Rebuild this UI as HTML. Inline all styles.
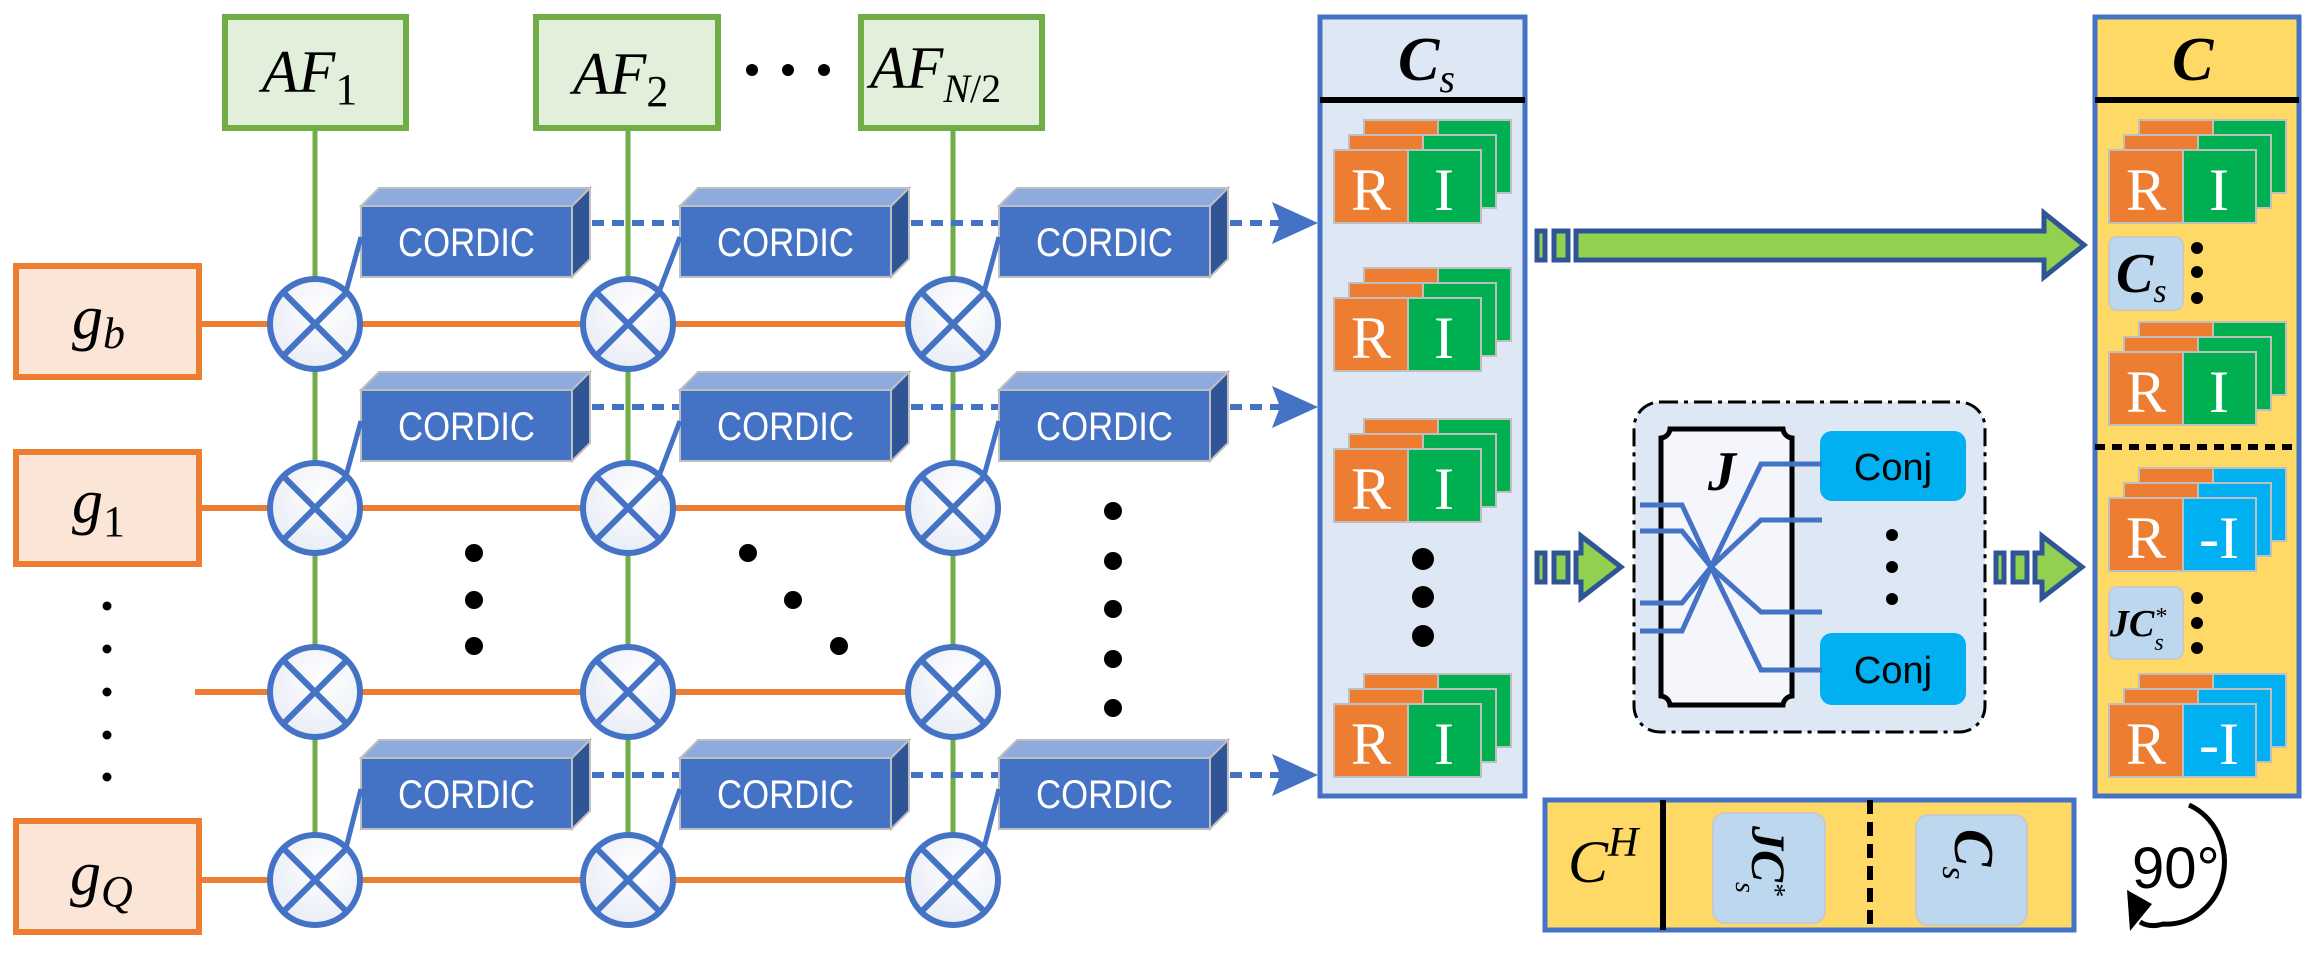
<!DOCTYPE html>
<html><head><meta charset="utf-8"><style>html,body{margin:0;padding:0;background:#fff}svg{display:block}</style></head>
<body>
<svg width="2304" height="968" viewBox="0 0 2304 968" xmlns="http://www.w3.org/2000/svg" xmlns:xlink="http://www.w3.org/1999/xlink">
<defs>
<radialGradient id="cg" cx="0.6" cy="0.35" r="0.8"><stop offset="0" stop-color="#ffffff"/><stop offset="1" stop-color="#e4e9f4"/></radialGradient>
<g id="cord">
<polygon points="0,0 18,-18 229,-18 211,0" fill="#8faadc" stroke="#bfbfbf" stroke-width="2"/>
<polygon points="211,0 229,-18 229,53 211,71" fill="#2f5597" stroke="#bfbfbf" stroke-width="2"/>
<rect x="0" y="0" width="211" height="71" fill="#4472c4" stroke="#bfbfbf" stroke-width="2"/>
<text x="37" y="50" font-family="Liberation Sans, sans-serif" font-size="40" fill="#fff" textLength="137" lengthAdjust="spacingAndGlyphs">CORDIC</text>
</g>
<g id="mul">
<ellipse cx="0" cy="0" rx="45" ry="45" fill="url(#cg)" stroke="#4472c4" stroke-width="6"/>
<line x1="-32" y1="-32" x2="32" y2="32" stroke="#4472c4" stroke-width="6"/>
<line x1="32" y1="-32" x2="-32" y2="32" stroke="#4472c4" stroke-width="6"/>
</g>
<g id="lay"><rect x="0" y="0" width="74" height="73" fill="#ed7d31" stroke="#bfbfbf" stroke-width="2"/><rect x="74" y="0" width="73" height="73" fill="#00b050" stroke="#bfbfbf" stroke-width="2"/></g>
<g id="ri">
<use xlink:href="#lay" x="30" y="-30"/><use xlink:href="#lay" x="15" y="-15"/><use xlink:href="#lay" x="0" y="0"/>
<text x="37" y="60" font-family="Liberation Serif, serif" font-size="60" fill="#fff" text-anchor="middle">R</text>
<text x="110" y="60" font-family="Liberation Serif, serif" font-size="60" fill="#fff" text-anchor="middle">I</text>
</g>
<g id="layb"><rect x="0" y="0" width="74" height="73" fill="#ed7d31" stroke="#bfbfbf" stroke-width="2"/><rect x="74" y="0" width="73" height="73" fill="#00b0f0" stroke="#bfbfbf" stroke-width="2"/></g>
<g id="rib">
<use xlink:href="#layb" x="30" y="-30"/><use xlink:href="#layb" x="15" y="-15"/><use xlink:href="#layb" x="0" y="0"/>
<text x="37" y="60" font-family="Liberation Serif, serif" font-size="60" fill="#fff" text-anchor="middle">R</text>
<text x="110" y="60" font-family="Liberation Serif, serif" font-size="60" fill="#fff" text-anchor="middle">-I</text>
</g>
</defs>

<g stroke="#70ad47" stroke-width="5">
<line x1="315" y1="128" x2="315" y2="880"/><line x1="628" y1="128" x2="628" y2="880"/><line x1="953" y1="128" x2="953" y2="880"/>
</g>
<g fill="#e2efda" stroke="#70ad47" stroke-width="6">
<rect x="225" y="17" width="181" height="111"/><rect x="536" y="17" width="182" height="111"/><rect x="861" y="17" width="181" height="111"/>
</g>
<g font-family="Liberation Serif, serif" font-style="italic" font-size="60" fill="#000">
<text x="262" y="92">AF<tspan font-style="normal" font-size="44" dy="12">1</tspan></text>
<text x="573" y="94">AF<tspan font-style="normal" font-size="44" dy="12">2</tspan></text>
<text x="870" y="88">AF<tspan font-size="40" dy="14">N</tspan><tspan font-style="normal" font-size="40">/2</tspan></text>
</g>
<g fill="#000"><circle cx="752" cy="70" r="6"/><circle cx="788" cy="70" r="6"/><circle cx="824" cy="70" r="6"/></g>

<g stroke="#ed7d31" stroke-width="6">
<line x1="199" y1="324" x2="960" y2="324"/><line x1="199" y1="508" x2="960" y2="508"/><line x1="195" y1="692" x2="960" y2="692"/><line x1="199" y1="880" x2="960" y2="880"/>
</g>
<g fill="#fbe5d6" stroke="#ed7d31" stroke-width="6">
<rect x="16" y="266" width="183" height="111"/><rect x="16" y="452" width="183" height="112"/><rect x="16" y="821" width="183" height="111"/>
</g>
<g font-family="Liberation Serif, serif" font-style="italic" font-size="62" fill="#000">
<text x="72" y="338">g<tspan font-size="44" dy="10">b</tspan></text>
<text x="72" y="522">g<tspan font-style="normal" font-size="44" dy="14">1</tspan></text>
<text x="70" y="894">g<tspan font-size="44" dy="12">Q</tspan></text>
</g>
<g fill="#000"><circle cx="107" cy="606" r="4.5"/><circle cx="107" cy="649" r="4.5"/><circle cx="107" cy="692" r="4.5"/><circle cx="107" cy="735" r="4.5"/><circle cx="107" cy="777" r="4.5"/></g>

<g stroke="#4472c4" stroke-width="6" stroke-dasharray="12,8">
<line x1="592" y1="223" x2="680" y2="223"/><line x1="911" y1="223" x2="999" y2="223"/><line x1="1230" y1="223" x2="1282" y2="223"/>
<line x1="592" y1="407" x2="680" y2="407"/><line x1="911" y1="407" x2="999" y2="407"/><line x1="1230" y1="407" x2="1282" y2="407"/>
<line x1="592" y1="775" x2="680" y2="775"/><line x1="911" y1="775" x2="999" y2="775"/><line x1="1230" y1="775" x2="1282" y2="775"/>
</g>
<g fill="#4472c4">
<polygon points="1272,202 1318,223 1272,244 1280,223"/><polygon points="1272,386 1318,407 1272,428 1280,407"/><polygon points="1272,754 1318,775 1272,796 1280,775"/>
</g>

<use xlink:href="#cord" x="361" y="206"/><use xlink:href="#cord" x="680" y="206"/><use xlink:href="#cord" x="999" y="206"/>
<use xlink:href="#cord" x="361" y="390"/><use xlink:href="#cord" x="680" y="390"/><use xlink:href="#cord" x="999" y="390"/>
<use xlink:href="#cord" x="361" y="758"/><use xlink:href="#cord" x="680" y="758"/><use xlink:href="#cord" x="999" y="758"/>

<g stroke="#4472c4" stroke-width="5">
<line x1="346" y1="292" x2="361" y2="237"/><line x1="659" y1="292" x2="680" y2="237"/><line x1="984" y1="292" x2="999" y2="237"/>
<line x1="346" y1="476" x2="361" y2="421"/><line x1="659" y1="476" x2="680" y2="421"/><line x1="984" y1="476" x2="999" y2="421"/>
<line x1="346" y1="848" x2="361" y2="789"/><line x1="659" y1="848" x2="680" y2="789"/><line x1="984" y1="848" x2="999" y2="789"/>
</g>

<use xlink:href="#mul" x="315" y="324"/><use xlink:href="#mul" x="628" y="324"/><use xlink:href="#mul" x="953" y="324"/>
<use xlink:href="#mul" x="315" y="508"/><use xlink:href="#mul" x="628" y="508"/><use xlink:href="#mul" x="953" y="508"/>
<use xlink:href="#mul" x="315" y="692"/><use xlink:href="#mul" x="628" y="692"/><use xlink:href="#mul" x="953" y="692"/>
<use xlink:href="#mul" x="315" y="880"/><use xlink:href="#mul" x="628" y="880"/><use xlink:href="#mul" x="953" y="880"/>

<g fill="#000">
<circle cx="474" cy="553" r="9"/><circle cx="474" cy="600" r="9"/><circle cx="474" cy="646" r="9"/>
<circle cx="748" cy="553" r="9"/><circle cx="793" cy="600" r="9"/><circle cx="839" cy="646" r="9"/>
<circle cx="1113" cy="511" r="9"/><circle cx="1113" cy="561" r="9"/><circle cx="1113" cy="609" r="9"/><circle cx="1113" cy="659" r="9"/><circle cx="1113" cy="708" r="9"/>
</g>

<rect x="1320" y="17" width="205" height="779" fill="#dee8f5" stroke="#4472c4" stroke-width="5"/>
<line x1="1320" y1="100" x2="1525" y2="100" stroke="#000" stroke-width="6"/>
<text x="1398" y="80" font-family="Liberation Serif, serif" font-style="italic" font-weight="bold" font-size="62">C<tspan font-weight="normal" font-size="40" dy="12">s</tspan></text>
<use xlink:href="#ri" x="1334" y="150"/><use xlink:href="#ri" x="1334" y="298"/><use xlink:href="#ri" x="1334" y="449"/><use xlink:href="#ri" x="1334" y="704"/>
<g fill="#000"><circle cx="1423" cy="559" r="11"/><circle cx="1423" cy="597" r="11"/><circle cx="1423" cy="636" r="11"/></g>

<g stroke="#2f5597" stroke-width="5" fill="#92d050">
<rect x="1537" y="231" width="8" height="29"/><rect x="1554" y="231" width="14" height="29"/>
<polygon points="1576,231 2044,231 2044,213 2084,245 2044,277 2044,260 1576,260"/>
</g>
<g stroke="#2f5597" stroke-width="5" fill="#92d050">
<rect x="1537" y="553" width="8" height="29"/><rect x="1554" y="553" width="14" height="29"/>
<polygon points="1576,553 1581,553 1581,536 1621,567 1581,598 1581,582 1576,582"/>
<rect x="1996" y="553" width="8" height="29"/><rect x="2013" y="553" width="14" height="29"/>
<polygon points="2035,553 2042,553 2042,536 2082,567 2042,598 2042,582 2035,582"/>
</g>

<rect x="1634" y="402" width="351" height="330" rx="26" fill="#dee8f5" stroke="#000" stroke-width="3" stroke-dasharray="18,6,4,6"/>
<path d="M1670,429 L1783,429 A10,10 0 0 0 1792,438 L1792,696 A10,10 0 0 0 1783,705 L1670,705 A10,10 0 0 0 1661,696 L1661,438 A10,10 0 0 0 1670,429 Z" fill="#f4f6fb" stroke="#000" stroke-width="5"/>
<text x="1708" y="490" font-family="Liberation Serif, serif" font-style="italic" font-weight="bold" font-size="56">J</text>
<rect x="1820" y="431" width="146" height="70" rx="12" fill="#00b0f0"/>
<rect x="1820" y="633" width="146" height="72" rx="12" fill="#00b0f0"/>
<text x="1893" y="480" font-family="Liberation Sans, sans-serif" font-size="38" text-anchor="middle">Conj</text>
<text x="1893" y="683" font-family="Liberation Sans, sans-serif" font-size="38" text-anchor="middle">Conj</text>
<g stroke="#4472c4" stroke-width="5" fill="none">
<polyline points="1640,505 1682,505 1711,567 1761,464 1822,464"/>
<polyline points="1640,531 1682,531 1711,567 1761,520 1822,520"/>
<polyline points="1640,603 1682,603 1711,567 1761,612 1822,612"/>
<polyline points="1640,631 1682,631 1711,567 1761,670 1822,670"/>
</g>
<g fill="#000"><circle cx="1892" cy="535" r="6"/><circle cx="1892" cy="567" r="6"/><circle cx="1892" cy="599" r="6"/></g>

<rect x="2095" y="17" width="204" height="779" fill="#ffd966" stroke="#4472c4" stroke-width="5"/>
<line x1="2095" y1="100" x2="2299" y2="100" stroke="#000" stroke-width="6"/>
<line x1="2095" y1="447" x2="2299" y2="447" stroke="#000" stroke-width="6" stroke-dasharray="10,7"/>
<text x="2172" y="80" font-family="Liberation Serif, serif" font-style="italic" font-weight="bold" font-size="62">C</text>
<use xlink:href="#ri" x="2109" y="150"/><use xlink:href="#ri" x="2109" y="352"/>
<use xlink:href="#rib" x="2109" y="498"/><use xlink:href="#rib" x="2109" y="704"/>
<rect x="2109" y="237" width="74" height="73" rx="8" fill="#bdd7ee" stroke="#c9c9c9" stroke-width="2"/>
<text x="2116" y="292" font-family="Liberation Serif, serif" font-style="italic" font-weight="bold" font-size="56">C<tspan font-weight="normal" font-size="34" dy="10">s</tspan></text>
<rect x="2109" y="587" width="74" height="72" rx="8" fill="#bdd7ee" stroke="#c9c9c9" stroke-width="2"/>
<text x="2110" y="636" font-family="Liberation Serif, serif" font-style="italic" font-weight="bold" font-size="38">JC<tspan font-weight="normal" font-size="24" dy="-12">*</tspan><tspan font-weight="normal" font-size="24" dx="-12" dy="26">s</tspan></text>
<g fill="#000"><circle cx="2197" cy="248" r="6"/><circle cx="2197" cy="272" r="6"/><circle cx="2197" cy="298" r="6"/>
<circle cx="2197" cy="598" r="6"/><circle cx="2197" cy="623" r="6"/><circle cx="2197" cy="648" r="6"/></g>

<rect x="1545" y="800" width="529" height="130" fill="#ffd966" stroke="#4472c4" stroke-width="5"/>
<line x1="1663" y1="800" x2="1663" y2="930" stroke="#000" stroke-width="6"/>
<line x1="1870" y1="800" x2="1870" y2="930" stroke="#000" stroke-width="6" stroke-dasharray="14,8"/>
<text x="1568" y="882" font-family="Liberation Serif, serif" font-style="italic" font-size="60">C<tspan font-size="42" dy="-26">H</tspan></text>
<rect x="1713" y="813" width="112" height="110" rx="12" fill="#bdd7ee" stroke="#c9c9c9" stroke-width="2"/>
<rect x="1916" y="815" width="111" height="110" rx="12" fill="#bdd7ee" stroke="#c9c9c9" stroke-width="2"/>
<text transform="translate(1752,826) rotate(90)" font-family="Liberation Serif, serif" font-style="italic" font-weight="bold" font-size="48">JC<tspan font-weight="normal" font-size="28" dy="-14">*</tspan><tspan font-weight="normal" font-size="28" dx="-14" dy="30">s</tspan></text>
<text transform="translate(1955,829) rotate(90)" font-family="Liberation Serif, serif" font-style="italic" font-weight="bold" font-size="56">C<tspan font-weight="normal" font-size="34" dy="12">s</tspan></text>

<text x="2132" y="888" font-family="Liberation Sans, sans-serif" font-size="58">90°</text>
<path d="M2189,805 A58,62 0 0 1 2163,924 Q2150,928 2140,922" fill="none" stroke="#000" stroke-width="5"/>
<polygon points="2127,890 2152,904 2130,931" fill="#000"/>
</svg>
</body></html>
